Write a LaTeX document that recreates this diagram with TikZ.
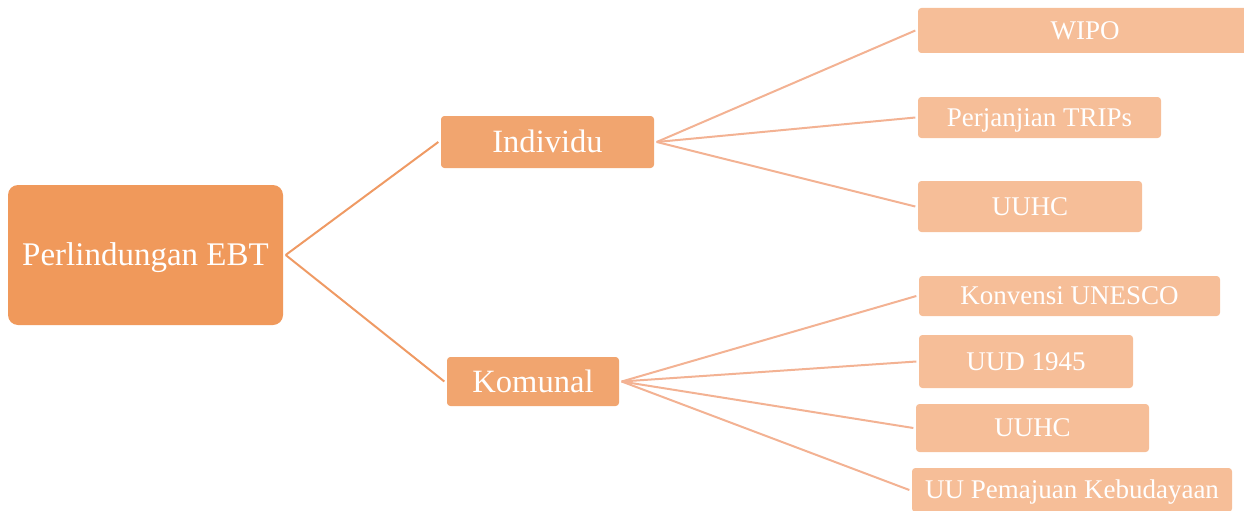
\documentclass[tikz,border=0pt]{standalone}
\usepackage{fontspec}
\setmainfont{Liberation Serif}
\usepackage{tikz}
\definecolor{rootfill}{HTML}{F0995B}
\definecolor{midfill}{HTML}{F1A56F}
\definecolor{leaffill}{HTML}{F6BE98}
\definecolor{rootline}{HTML}{EF9A64}
\definecolor{leafline}{HTML}{F3B293}
\tikzset{
  sized/.style 2 args={minimum width=#1*0.75pt, minimum height=#2*0.75pt},
  box/.style={inner sep=0pt, outer sep=2pt, text=white, text depth=0pt},
  root/.style={box, fill=rootfill, rounded corners=7.5pt, text height=16.3pt, font=\fontsize{24.75}{28}\selectfont},
  mid/.style={box, fill=midfill, rounded corners=2.5pt, text height=16.1pt, font=\fontsize{24.4}{28}\selectfont},
  leaf/.style={box, fill=leaffill, rounded corners=2.5pt, text height=13.4pt, font=\fontsize{20.25}{24}\selectfont},
  trunk/.style={draw=rootline, line width=1.5pt},
  twig/.style={draw=leafline, line width=1.5pt}
}
\begin{document}
\begin{tikzpicture}[x=0.75pt, y=-0.75pt]
  \useasboundingbox (0,0) rectangle (1244,510);
  \node (ebt) [root, sized={275}{140}] at (145.5,255) {Perlindungan EBT};
  \node (indiv) [mid, sized={213}{52}] at (547.5,142) {Individu};
  \node (komunal) [mid, sized={172}{49}] at (533,381.5) {Komunal};
  % individu
  \node (wipo) [leaf, sized={334}{45}] at (1085,30.5) {WIPO};
  \node (trips) [leaf, sized={243}{41}] at (1039.5,117.5) {Perjanjian TRIPs};
  \node (uuhcA) [leaf, sized={224}{51}] at (1030,206.5) {UUHC};
  % komunal
  \node (unesco) [leaf, sized={301}{40}] at (1069.5,296) {Konvensi UNESCO};
  \node (uud) [leaf, sized={214}{53}] at (1026,361.5) {UUD 1945};
  \node (uuhcB) [leaf, sized={233}{48}] at (1032.5,428) {UUHC};
  \node (pemajuan) [leaf, sized={320}{44}] at (1072,490) {UU Pemajuan Kebudayaan};
  \draw [trunk] (ebt.east) -- (indiv.west);
  \draw [trunk] (ebt.east) -- (komunal.west);
  \draw [twig] (indiv.east) -- (wipo.west);
  \draw [twig] (indiv.east) -- (trips.west);
  \draw [twig] (indiv.east) -- (uuhcA.west);
  \draw [twig] (komunal.east) -- (unesco.west);
  \draw [twig] (komunal.east) -- (uud.west);
  \draw [twig] (komunal.east) -- (uuhcB.west);
  \draw [twig] (komunal.east) -- (pemajuan.west);
\end{tikzpicture}
\end{document}
